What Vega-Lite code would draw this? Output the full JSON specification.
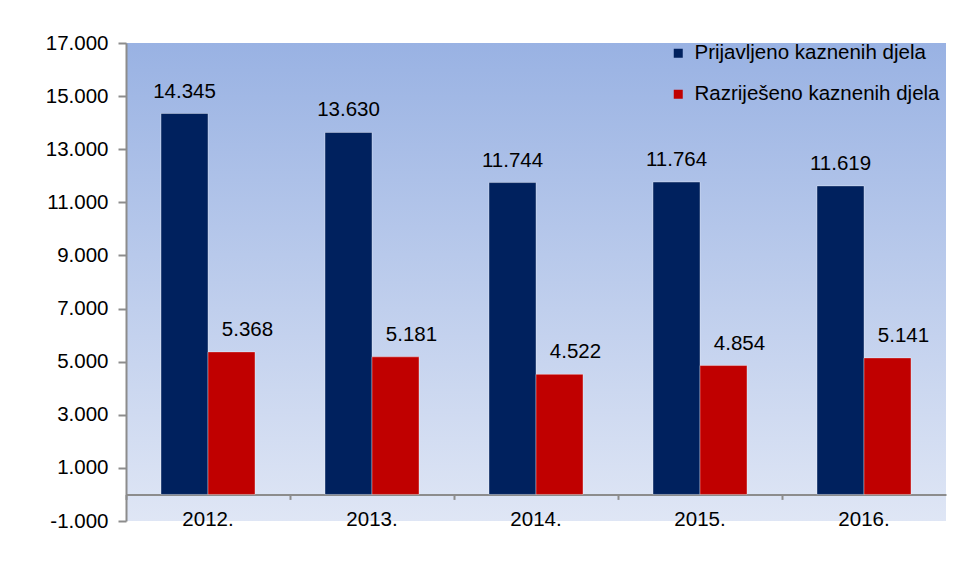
{
  "$schema": "https://vega.github.io/schema/vega-lite/v6.json",
  "width": 820,
  "height": 478,
  "autosize": {"type": "none"},
  "padding": {"left": 126, "top": 43, "right": 8, "bottom": 60},
  "background": "#ffffff",
  "view": {
    "stroke": null,
    "fill": {
      "gradient": "linear",
      "x1": 0, "y1": 0, "x2": 0, "y2": 1,
      "stops": [
        {"offset": 0, "color": "#99B2E3"},
        {"offset": 1, "color": "#DFE6F5"}
      ]
    }
  },
  "config": {
    "font": "Liberation Sans",
    "locale": {
      "number": {
        "decimal": ",",
        "thousands": ".",
        "grouping": [3],
        "currency": ["", " kn"],
        "minus": "-"
      }
    }
  },
  "data": {
    "values": [
      {"godina": "2012.", "serija": "Prijavljeno kaznenih djela", "broj": 14345},
      {"godina": "2012.", "serija": "Razriješeno kaznenih djela", "broj": 5368},
      {"godina": "2013.", "serija": "Prijavljeno kaznenih djela", "broj": 13630},
      {"godina": "2013.", "serija": "Razriješeno kaznenih djela", "broj": 5181},
      {"godina": "2014.", "serija": "Prijavljeno kaznenih djela", "broj": 11744},
      {"godina": "2014.", "serija": "Razriješeno kaznenih djela", "broj": 4522},
      {"godina": "2015.", "serija": "Prijavljeno kaznenih djela", "broj": 11764},
      {"godina": "2015.", "serija": "Razriješeno kaznenih djela", "broj": 4854},
      {"godina": "2016.", "serija": "Prijavljeno kaznenih djela", "broj": 11619},
      {"godina": "2016.", "serija": "Razriješeno kaznenih djela", "broj": 5141}
    ]
  },
  "encoding": {
    "x": {
      "field": "godina",
      "type": "nominal",
      "scale": {"paddingInner": 0, "paddingOuter": 0},
      "axis": {
        "title": null,
        "labelAngle": 0,
        "labelFontSize": 20.5,
        "labelColor": "#000000",
        "labelPadding": 10,
        "labelBaseline": "top",
        "tickSize": 5,
        "tickColor": "#8C8C8C",
        "tickWidth": 2,
        "domainColor": "#8C8C8C",
        "domainWidth": 2,
        "bandPosition": 0,
        "offset": -26.6
      }
    },
    "xOffset": {
      "field": "serija",
      "type": "nominal",
      "scale": {"paddingInner": 0, "paddingOuter": 0.745}
    },
    "y": {
      "field": "broj",
      "type": "quantitative",
      "scale": {"domain": [-1000, 17000], "nice": false, "zero": false},
      "axis": {
        "title": null,
        "values": [-1000, 1000, 3000, 5000, 7000, 9000, 11000, 13000, 15000, 17000],
        "format": ",d",
        "grid": false,
        "labelFontSize": 20.5,
        "labelColor": "#000000",
        "labelPadding": 10,
        "tickSize": 8,
        "tickColor": "#8C8C8C",
        "tickWidth": 2,
        "domainColor": "#8C8C8C",
        "domainWidth": 2
      }
    }
  },
  "layer": [
    {
      "mark": {"type": "bar", "stroke": "#ffffff", "strokeOpacity": 0.35, "strokeWidth": 1},
      "encoding": {
        "y2": {"datum": 0},
        "color": {
          "field": "serija",
          "type": "nominal",
          "scale": {
            "domain": ["Prijavljeno kaznenih djela", "Razriješeno kaznenih djela"],
            "range": ["#00215E", "#C00000"]
          },
          "legend": {
            "title": null,
            "orient": "none",
            "legendX": 542,
            "legendY": 0,
            "symbolType": "square",
            "symbolSize": 81,
            "symbolStrokeWidth": 0,
            "labelFontSize": 20.5,
            "labelColor": "#000000",
            "labelOffset": 6,
            "rowPadding": 20,
            "labelLimit": 400,
            "padding": 0
          }
        }
      }
    },
    {
      "transform": [{"filter": "datum.serija === 'Prijavljeno kaznenih djela'"}],
      "mark": {"type": "text", "fontSize": 20.5, "color": "#000000", "baseline": "alphabetic", "dy": -16},
      "encoding": {
        "text": {"field": "broj", "type": "quantitative", "format": ",d"}
      }
    },
    {
      "transform": [{"filter": "datum.serija === 'Razriješeno kaznenih djela'"}],
      "mark": {"type": "text", "fontSize": 20.5, "color": "#000000", "baseline": "alphabetic", "dy": -16, "dx": 16},
      "encoding": {
        "text": {"field": "broj", "type": "quantitative", "format": ",d"}
      }
    }
  ]
}
